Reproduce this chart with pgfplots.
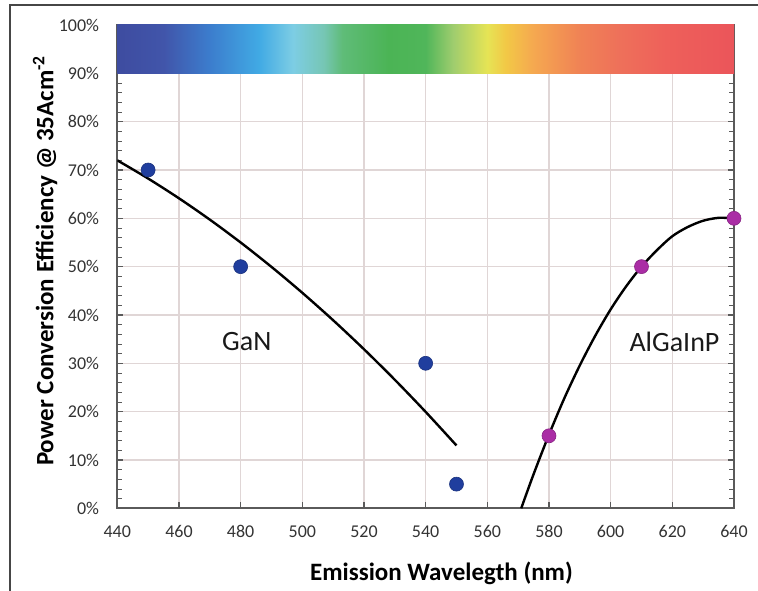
\documentclass[border=0pt]{standalone}
\usepackage{fontspec}
\setmainfont{Carlito}
\usepackage{pgfplots}
\pgfplotsset{compat=1.18}

\definecolor{gridc}{RGB}{224,214,214}
\definecolor{axc}{RGB}{90,90,90}
\definecolor{framec}{RGB}{70,70,70}
\definecolor{gan}{RGB}{32,62,158}
\definecolor{alg}{RGB}{170,45,165}

% visible spectrum strip, 440 nm -> 25bp ... 640 nm -> 75bp
\definecolor{s1}{RGB}{62,76,160}
\definecolor{s2}{RGB}{65,85,170}
\definecolor{s3}{RGB}{60,125,205}
\definecolor{s4}{RGB}{65,170,228}
\definecolor{s5}{RGB}{125,205,228}
\definecolor{s6}{RGB}{118,198,180}
\definecolor{s7}{RGB}{95,188,120}
\definecolor{s8}{RGB}{75,180,85}
\definecolor{s9}{RGB}{80,182,90}
\definecolor{s10}{RGB}{160,205,110}
\definecolor{s11}{RGB}{230,228,85}
\definecolor{s12}{RGB}{242,200,70}
\definecolor{s13}{RGB}{245,168,80}
\definecolor{s14}{RGB}{240,130,85}
\definecolor{s15}{RGB}{238,112,90}
\definecolor{s16}{RGB}{238,96,90}
\definecolor{s17}{RGB}{235,85,90}
\pgfdeclarehorizontalshading{spectrum}{100bp}{
  color(0bp)=(s1); color(25bp)=(s1); color(28.75bp)=(s2); color(32.5bp)=(s3);
  color(36.5bp)=(s4); color(39.25bp)=(s5); color(41.75bp)=(s6); color(43.25bp)=(s7);
  color(47bp)=(s8); color(50bp)=(s9); color(52.25bp)=(s10); color(55bp)=(s11);
  color(56.5bp)=(s12); color(58.75bp)=(s13); color(62.5bp)=(s14); color(65.75bp)=(s15);
  color(69.5bp)=(s16); color(75bp)=(s17); color(100bp)=(s17)}

\begin{document}
\begin{tikzpicture}[x=1pt,y=1pt]
\useasboundingbox (0,0) rectangle (758,591);
\draw[line width=1.5pt, framec] (10,-2) -- (10,586) -- (760,586);
\begin{axis}[
  at={(117.3pt,82.7pt)}, anchor=south west,
  scale only axis, width=616.7pt, height=483.3pt,
  xmin=440, xmax=640, ymin=0, ymax=100,
  xtick={440,460,...,640},
  ytick={0,10,...,100},
  minor y tick num=4,
  yticklabel={\pgfmathprintnumber{\tick}\%},
  /pgf/number format/assume math mode=true,
  tick align=inside,
  major tick length=6pt, minor tick length=5pt,
  tick style={axc, line width=1.2pt},
  minor tick style={axc, line width=0.8pt},
  axis line style={axc, line width=1.6pt},
  grid=major,
  major grid style={gridc, line width=1.3pt},
  tick label style={font=\fontsize{18}{18}\selectfont, text=black!80},
  yticklabel style={anchor=east, inner sep=0pt, xshift=-18pt},
  xticklabel style={anchor=north, inner sep=0pt, yshift=-17pt},
  xlabel={Emission Wavelegth (nm)},
  ylabel={Power Conversion Efficiency @ 35Acm\textsuperscript{-2}},
  every axis x label/.style={at={(axis description cs:0.5257,-0.1339)}, anchor=center,
    font=\fontsize{25}{25}\selectfont\bfseries},
  every axis y label/.style={at={(axis description cs:-0.1172,0.512)}, anchor=center, rotate=90,
    font=\fontsize{25}{25}\selectfont\bfseries},
  clip=true,
]
% spectrum strip across the top of the plot
\shade[shading=spectrum] (axis cs:440,90) rectangle (axis cs:640,100);

% measured points
\addplot[only marks, mark=*, mark size=7pt, mark options={fill=gan, draw=gan!80!black, line width=0.6pt}]
  coordinates {(450,70) (480,50) (540,30) (550,5)};
\addplot[only marks, mark=*, mark size=7pt, mark options={fill=alg, draw=alg!80!black, line width=0.6pt}]
  coordinates {(580,15) (610,50) (640,60)};

% trend lines
\addplot[black, line width=2.4pt, smooth] coordinates {
  (440,72) (450,68.23) (460,64.14) (470,59.73) (480,55.0) (490,49.95)
  (500,44.59) (510,38.91) (520,32.91) (530,26.59) (540,19.95) (550,13.0)};
\addplot[black, line width=2.4pt, smooth] coordinates {
  (571,0) (575,7.05) (580,15.25) (585,22.8) (590,29.58) (595,35.7) (600,41.16)
  (605,45.9) (610,50) (615,53.4) (620,56.3) (625,58.2) (630,59.5) (635,60.1) (640,60)};

\node[font=\fontsize{28}{28}\selectfont, text=black!90] at (axis cs:482,34.6) {GaN};
\node[font=\fontsize{28}{28}\selectfont, text=black!90] at (axis cs:620.7,34.5) {AlGaInP};
\end{axis}
\end{tikzpicture}
\end{document}
